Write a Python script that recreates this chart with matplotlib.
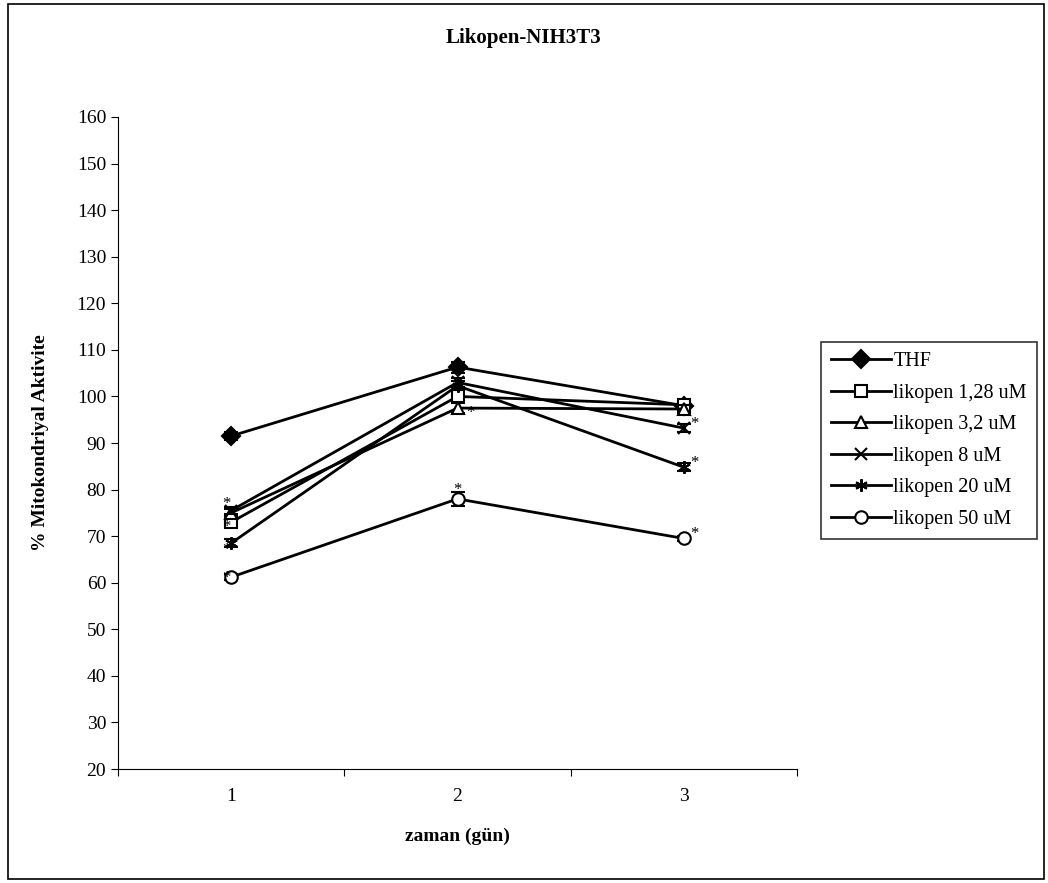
import matplotlib
matplotlib.use('Agg')
import matplotlib.pyplot as plt
from matplotlib.patches import Rectangle

# data
days = [1, 2, 3]
labels = ["THF", "likopen 1,28 uM", "likopen 3,2 uM", "likopen 8 uM",
          "likopen 20 uM", "likopen 50 uM"]
thf = [91.5, 106.3, 98.0]
lik_128 = [73.0, 100.0, 98.2]
lik_32 = [75.0, 97.5, 97.3]
lik_8 = [75.5, 103.0, 93.2]
lik_20 = [68.5, 102.3, 84.8]
lik_50 = [61.2, 78.0, 69.5]
errors = [[0.8, 1.2, 0.8], [1.0, 1.2, 0.8], [0.8, 1.0, 0.8],
          [0.8, 1.0, 0.8], [0.8, 1.0, 0.8], [0.6, 1.5, 0.6]]
markers = ['D', 's', '^', 'x', (6, 2, 0), 'o']

# significance stars: (x, y)
star_pos = [(0.96, 77.0), (0.96, 72.0), (0.96, 67.0), (0.96, 61.0),
            (2.04, 96.5), (1.98, 80.0), (3.03, 94.0), (3.03, 85.8), (3.03, 70.5)]

plt.rcParams['font.family'] = ['Liberation Serif', 'DejaVu Serif']

fig = plt.figure(figsize=(10.48, 8.83), dpi=100)
ax = fig.add_axes([0.1126, 0.1291, 0.6479, 0.7384])

series = [thf, lik_128, lik_32, lik_8, lik_20, lik_50]
for vals, lab, mk, err in zip(series, labels, markers, errors):
    face = 'black' if mk in ('D', 'x', (6, 2, 0)) else 'white'
    ax.errorbar(days, vals, yerr=err, color='black', fmt='none',
                capsize=5, elinewidth=1.5, capthick=1.5)
    ax.plot(days, vals, color='black', marker=mk, markersize=9,
            markerfacecolor=face, markeredgecolor='black', markeredgewidth=1.5,
            linewidth=2, label=lab)

for x, y in star_pos:
    ax.text(x, y, '*', fontsize=12, ha='left', va='center')

ax.set_xlim(0.5, 3.5)
ax.set_ylim(20, 160)
ax.set_yticks(range(20, 161, 10))
ax.set_xticks([0.5, 1.5, 2.5, 3.5])
ax.set_xticklabels([])
ax.set_xticks(days, minor=True)
ax.set_xticklabels([str(d) for d in days], minor=True)
ax.tick_params(axis='x', which='minor', length=0, labelsize=14, pad=14)
ax.tick_params(axis='x', which='major', direction='out', length=5)
ax.tick_params(axis='y', direction='out', length=5, labelsize=14)
ax.spines['top'].set_visible(False)
ax.spines['right'].set_visible(False)

fig.text(0.5, 1 - 38 / 883, "Likopen-NIH3T3", fontsize=15, fontweight='bold',
         ha='center', va='center')
ax.set_xlabel("zaman (gün)", fontsize=14, fontweight='bold', labelpad=16)
ax.set_ylabel("% Mitokondriyal Aktivite", fontsize=14, fontweight='bold', labelpad=20)

leg = ax.legend(loc='upper left', bbox_to_anchor=(1.035, 0.655), fontsize=14.5,
                frameon=True, fancybox=False, edgecolor='black', handlelength=3.0,
                borderpad=0.5, labelspacing=0.62, handletextpad=0.1,
                borderaxespad=0)
leg.get_frame().set_linewidth(1.2)

fig.patches.append(Rectangle((0.008, 0.004), 0.988, 0.992, transform=fig.transFigure,
                             fill=False, edgecolor='black', linewidth=1.2))

plt.savefig('out.png', dpi=100)
